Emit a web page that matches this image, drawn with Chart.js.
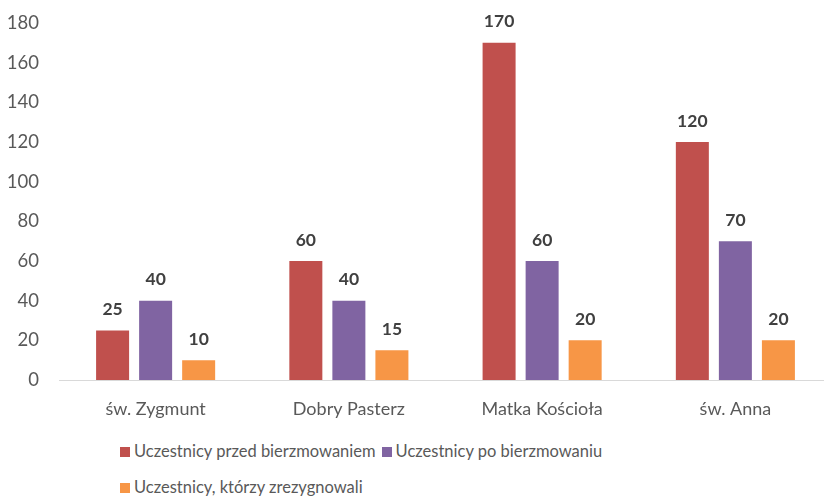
<!DOCTYPE html>
<html>
<head>
<meta charset="utf-8">
<script src="https://cdn.jsdelivr.net/npm/chart.js@4.4.1/dist/chart.umd.min.js"></script>
<style>
  html, body { margin: 0; padding: 0; background: #fff; overflow: hidden; }
  #wrap { position: relative; width: 832px; height: 497px; }
  #chart-box { position: absolute; left: 0; top: 0; width: 832px; height: 430px; }
  .legend { position: absolute; left: 120px; font-family: Lato, sans-serif; font-size: 16.5px; color: #595959; white-space: nowrap; }
  .legend span.item { margin-right: 6px; }
  .legend i { display: inline-block; width: 10px; height: 10px; margin-right: 4px; vertical-align: 0px; }
</style>
</head>
<body>
<div id="wrap">
  <div id="chart-box"><canvas id="bars"></canvas></div>
  <div class="legend" id="legend-1" style="top:441px"></div>
  <div class="legend" id="legend-2" style="top:477px"></div>
</div>
<script>
// categories and series
const parishes = ['św. Zygmunt', 'Dobry Pasterz', 'Matka Kościoła', 'św. Anna'];
const beforeConfirmation = [25, 60, 170, 120];
const afterConfirmation = [40, 40, 60, 70];
const resigned = [10, 15, 20, 20];
const yTicks = [0, 20, 40, 60, 80, 100, 120, 140, 160, 180];

const seriesNames = [
    'Uczestnicy przed bierzmowaniem',
    'Uczestnicy po bierzmowaniu',
    'Uczestnicy, którzy zrezygnowali'
];
const seriesColors = ['#C0504D', '#8064A2', '#F79646'];

const FONT = 'Lato, sans-serif';

// bold value labels above every bar
const valueLabels = {
    id: 'valueLabels',
    afterDatasetsDraw(chart) {
        const ctx = chart.ctx;
        ctx.save();
        ctx.font = 'bold 17.5px ' + FONT;
        ctx.fillStyle = '#404040';
        ctx.textAlign = 'center';
        ctx.textBaseline = 'middle';
        chart.data.datasets.forEach((ds, i) => {
            chart.getDatasetMeta(i).data.forEach((bar, j) => {
                ctx.fillText(ds.data[j], bar.x, bar.y - 21);
            });
        });
        ctx.restore();
    }
};

new Chart(document.getElementById('bars'), {
    type: 'bar',
    data: {
        labels: parishes,
        datasets: [beforeConfirmation, afterConfirmation, resigned].map((vals, i) => ({
            label: seriesNames[i],
            data: vals,
            backgroundColor: seriesColors[i],
            categoryPercentage: 0.668,
            barPercentage: 0.767
        }))
    },
    options: {
        responsive: true,
        maintainAspectRatio: false,
        animation: false,
        layout: { padding: { top: 23, right: 0, left: 0, bottom: 0 } },
        plugins: {
            legend: { display: false },
            tooltip: { enabled: false }
        },
        scales: {
            x: {
                grid: { display: false, drawTicks: false },
                border: { display: true, color: '#D9D9D9', width: 1 },
                ticks: { color: '#595959', font: { family: FONT, size: 18 }, padding: 18, maxRotation: 0 },
                afterFit(scale) { scale.height = 50; }
            },
            y: {
                min: 0,
                max: 180,
                afterBuildTicks(scale) { scale.ticks = yTicks.map(v => ({ value: v })); },
                grid: { display: false, drawTicks: false },
                border: { display: false },
                ticks: { color: '#595959', font: { family: FONT, size: 18.5 }, padding: 20 },
                afterFit(scale) {
                    scale.width = 59;
                    // tick padding would otherwise push the top of the plot down
                    scale.paddingTop = 0;
                    scale.paddingBottom = 0;
                }
            }
        }
    },
    plugins: [valueLabels]
});

// legend laid out like the original: two rows, left aligned
function legendItem(i) {
    return '<span class="item"><i style="background:' + seriesColors[i] + '"></i>' + seriesNames[i] + '</span>';
}
document.getElementById('legend-1').innerHTML = legendItem(0) + legendItem(1);
document.getElementById('legend-2').innerHTML = legendItem(2);
</script>
</body>
</html>
